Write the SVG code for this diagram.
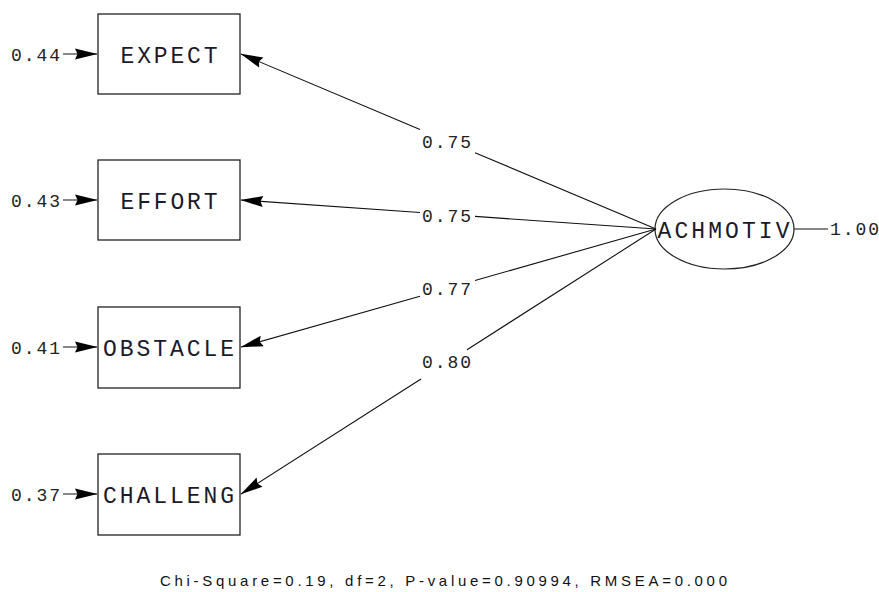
<svg xmlns="http://www.w3.org/2000/svg" width="879" height="592" viewBox="0 0 879 592">
  <style>
    .box { fill: #fff; stroke: #222; stroke-width: 1.3; }
    .lat { fill: #fff; stroke: #222; stroke-width: 1.2; }
    .var { font-family: "Courier New", "Liberation Mono", monospace; font-size: 23px; fill: #1a1a2a; text-anchor: middle; }
    .num { font-family: "Courier New", "Liberation Mono", monospace; font-size: 18px; fill: #222; }
    .edge { fill: none; stroke: #111; stroke-width: 1.1; }
    .foot { font-family: "Liberation Sans", Arial, sans-serif; font-size: 15px; fill: #111; }
  </style>
  <defs>
    <marker id="head" markerUnits="userSpaceOnUse" markerWidth="28" markerHeight="16" viewBox="-25 -8 28 16" refX="0" refY="0" orient="auto">
      <path d="M0.5,0 L-22,-5.5 L-19.5,0 L-22,5.5 Z" fill="#000"/>
    </marker>
  </defs>
  <rect width="879" height="592" fill="#fff"/>

  <!-- observed indicators -->
  <g id="expect">
    <rect class="box" x="98" y="14" width="142" height="80"/>
    <text class="var" x="169" y="63" textLength="97" lengthAdjust="spacing">EXPECT</text>
  </g>
  <g id="effort">
    <rect class="box" x="98" y="160" width="142" height="80"/>
    <text class="var" x="169" y="209" textLength="97" lengthAdjust="spacing">EFFORT</text>
  </g>
  <g id="obstacle">
    <rect class="box" x="98" y="307" width="142" height="81"/>
    <text class="var" x="168.5" y="356" textLength="131" lengthAdjust="spacing">OBSTACLE</text>
  </g>
  <g id="challeng">
    <rect class="box" x="98" y="454" width="142" height="81"/>
    <text class="var" x="168.5" y="503" textLength="131" lengthAdjust="spacing">CHALLENG</text>
  </g>

  <!-- latent factor -->
  <g id="achmotiv">
    <ellipse class="lat" cx="724.5" cy="229" rx="69.5" ry="40"/>
    <text class="var" x="723.5" y="238" textLength="132" lengthAdjust="spacing">ACHMOTIV</text>
  </g>

  <!-- loadings, error terms and factor variance -->
  <g id="connectors">
    <path class="edge" marker-end="url(#head)" d="M656,229 L475,152.7 M420,129.5 L241,54"/>
    <path class="edge" marker-end="url(#head)" d="M656,229 L475,216.4 M420,212.5 L241,200"/>
    <path class="edge" marker-end="url(#head)" d="M656,229 L475,280.5 M420,296.2 L241,347"/>
    <path class="edge" marker-end="url(#head)" d="M656,229 L467,349.7 M421,379 L241,494"/>

    <path class="edge" marker-end="url(#head)" d="M63,54 L97,54"/>
    <path class="edge" marker-end="url(#head)" d="M63,200 L97,200"/>
    <path class="edge" marker-end="url(#head)" d="M63,347 L97,347"/>
    <path class="edge" marker-end="url(#head)" d="M63,494 L97,494"/>

    <path class="edge" d="M794,229 L828,229"/>
  </g>

  <g id="labels">
    <text class="num" x="11" y="60.5" textLength="49" lengthAdjust="spacing">0.44</text>
    <text class="num" x="11" y="206.5" textLength="49" lengthAdjust="spacing">0.43</text>
    <text class="num" x="11" y="353.5" textLength="49" lengthAdjust="spacing">0.41</text>
    <text class="num" x="11" y="500.5" textLength="49" lengthAdjust="spacing">0.37</text>

    <text class="num" x="422" y="148" textLength="49" lengthAdjust="spacing">0.75</text>
    <text class="num" x="422" y="222" textLength="49" lengthAdjust="spacing">0.75</text>
    <text class="num" x="422" y="295" textLength="49" lengthAdjust="spacing">0.77</text>
    <text class="num" x="422" y="368" textLength="49" lengthAdjust="spacing">0.80</text>

    <text class="num" x="830" y="235" textLength="49" lengthAdjust="spacing">1.00</text>
  </g>

  <text class="foot" x="160" y="586" textLength="567" lengthAdjust="spacing">Chi-Square=0.19, df=2, P-value=0.90994, RMSEA=0.000</text>
</svg>
